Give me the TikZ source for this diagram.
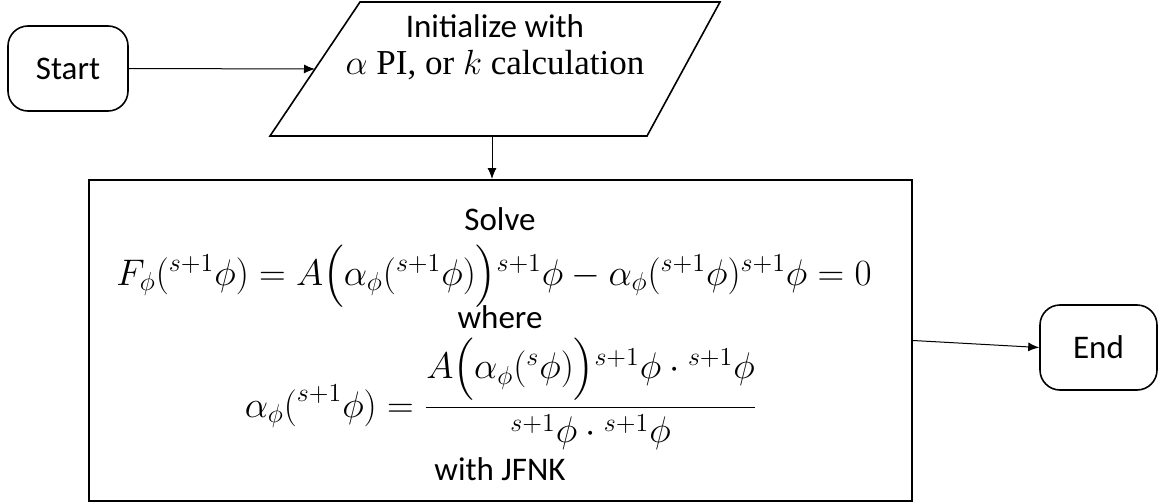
\RequirePackage{fix-cm}
\documentclass[tikz,border=0pt]{standalone}
\usepackage{amsmath}
\usepackage{fontspec}
\usetikzlibrary{arrows.meta,calc}
\newfontfamily\calibrifont{Carlito}
\newfontfamily\cambriafont{Liberation Serif}

\begin{document}
\begin{tikzpicture}[x=0.5pt,y=-0.5pt,
    terminal/.style={draw, line width=0.8pt, rounded corners=10pt,
      minimum width=60pt, minimum height=42.5pt,
      font=\calibrifont\fontsize{16.5}{20}\selectfont},
    label/.style={inner sep=0pt, font=\calibrifont\fontsize{16.5}{20}\selectfont},
    formula/.style={inner sep=0pt, anchor=base, font=\fontsize{18.5}{22}\selectfont},
    flow/.style={-{Latex[length=5.5pt,width=4.5pt]}, line width=0.5pt}]
  \useasboundingbox (0,0) rectangle (1163,503);

  %--- Start ---
  \node[terminal] (start) at (68,68.5) {Start};

  %--- Initialize (parallelogram) ---
  \draw[line width=0.8pt]
    (270,136) coordinate (initBL) -- (360,2) coordinate (initTL)
    -- (720,2) -- (647,136) -- cycle;
  \coordinate (initW) at ($(initBL)!0.5!(initTL)$);
  \coordinate (initS) at (492,136);
  \node[align=center, inner sep=0pt, font=\fontsize{17.5}{18.5}\selectfont] (init) at (495,47)
    {{\calibrifont\fontsize{16.5}{18.5}\selectfont Initialize with}\\
     {\cambriafont $\alpha$ PI, or $k$ calculation}};

  %--- Solve box ---
  \node[draw, line width=1pt, minimum width=411.5pt, minimum height=160.5pt] (solve) at (500.5,340.5) {};
  \node[label] (solveTxt) at (500,219) {Solve};
  \node[formula, text height=13pt, text depth=6pt] (eqF) at (494,285)
    {$F_{\phi}({}^{s+1}\phi) = A\Bigl(\alpha_{\phi}({}^{s+1}\phi)\Bigr){}^{s+1}\phi
       - \alpha_{\phi}({}^{s+1}\phi){}^{s+1}\phi = 0$};
  \node[label] (whereTxt) at (500,317) {where};
  \node[formula, text height=30pt, text depth=15pt] (eqAlpha) at (501,417)
    {$\displaystyle \alpha_{\phi}({}^{s+1}\phi) =
       \frac{A\Bigl(\alpha_{\phi}({}^{s}\phi)\Bigr){}^{s+1}\phi \cdot {}^{s+1}\phi}
            {{}^{s+1}\phi \cdot {}^{s+1}\phi}$};
  \node[label] (jfnkTxt) at (500,469) {with JFNK};

  %--- End ---
  \node[terminal, minimum width=58.5pt] (end) at (1098.5,347.5) {End};

  %--- connectors ---
  \draw[flow] (start.east) -- (initW);
  \draw[flow] (initS) -- (initS |- solve.north);
  \draw[flow] (solve.east) -- (end.west);
\end{tikzpicture}
\end{document}
